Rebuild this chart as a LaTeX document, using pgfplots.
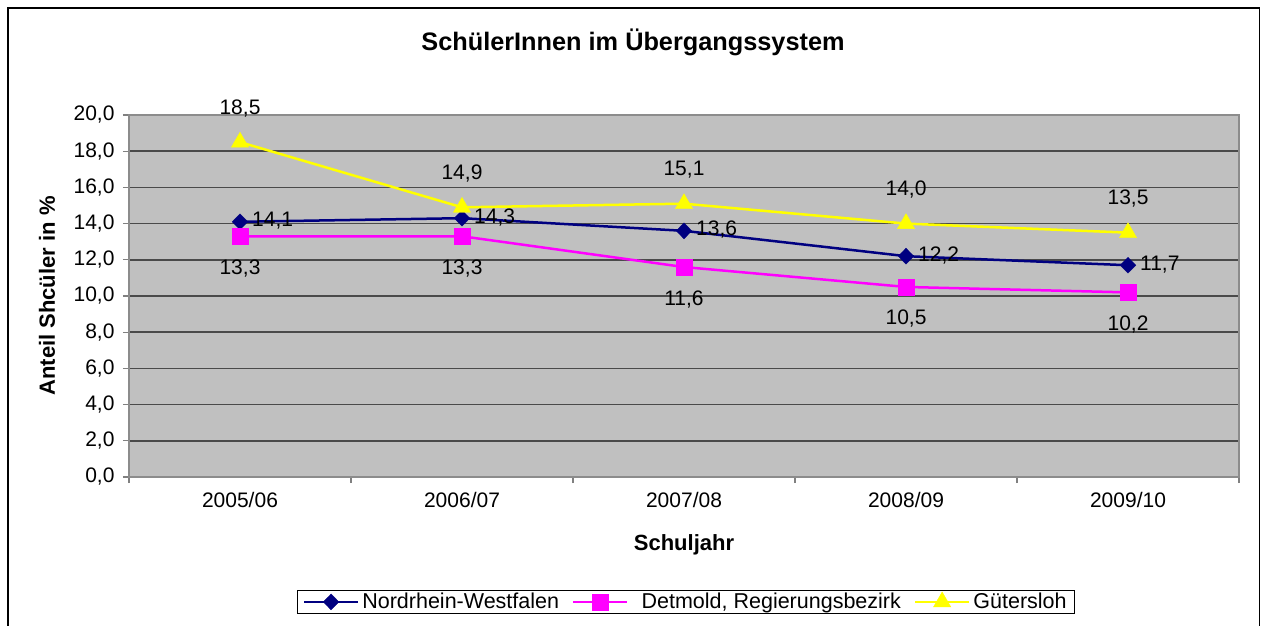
\documentclass[border=0pt]{standalone}
\usepackage{fontspec}
\setmainfont{Liberation Sans}
\usepackage{pgfplots}
\pgfplotsset{compat=1.18}
\definecolor{bggray}{HTML}{C0C0C0}
\definecolor{gridgray}{HTML}{4A4A4A}
\definecolor{nrw}{HTML}{000080}
\definecolor{dtm}{HTML}{FF00FF}
\definecolor{gue}{HTML}{FFFF00}
\newcommand{\nf}{\fontsize{21}{24}\selectfont}
\newcommand{\bfl}{\fontsize{22}{25}\selectfont\bfseries}
\begin{document}
\begin{tikzpicture}[x=1pt,y=1pt]
\useasboundingbox (0,0) rectangle (1266,625);
\draw[black, line width=1.3pt] (8,-6) rectangle (1259.5,617);
\node[font=\fontsize{25.3}{28}\selectfont\bfseries] at (633,583) {SchülerInnen im Übergangssystem};
\begin{axis}[
  at={(129pt,148pt)}, anchor=south west,
  scale only axis, width=1110pt, height=362pt,
  font=\nf,
  /pgf/number format/.cd, fixed, fixed zerofill, precision=1, use comma, assume math mode=true,
  /pgfplots/.cd,
  xmin=-0.5, xmax=4.5, ymin=0, ymax=20,
  xtick={-0.5,0.5,...,4.5},
  x tick label as interval,
  xticklabels={2005/06,2006/07,2007/08,2008/09,2009/10},
  ytick={0,2,...,20},
  tick align=outside, xtick pos=left, ytick pos=left,
  major tick length=6pt,
  tick style={draw=gray, line width=1.2pt},
  ymajorgrids, grid style={draw=gridgray, line width=1.5pt},
  axis line style={draw=gray!90, line width=1.5pt},
  axis background/.style={fill=bggray},
  xticklabel style={font=\nf, yshift=-6pt},
  yticklabel style={font=\nf, xshift=-5pt},
  xlabel={Schuljahr},
  ylabel={Anteil Shcüler in \%},
  xlabel style={at={(axis description cs:0.5,-0.188)}, anchor=center, font=\bfl},
  ylabel style={at={(axis description cs:-0.0739,0.5)}, anchor=center, font=\bfl},
  legend columns=3,
  legend style={at={(axis description cs:0.502,-0.345)}, anchor=center,
    draw=black, line width=1pt, fill=white, font=\fontsize{21.5}{24}\selectfont,
    inner xsep=5pt, inner ysep=1pt,
    /tikz/every even column/.append style={column sep=10pt},
    nodes={inner xsep=3pt, inner ysep=2pt}},
  legend image code/.code={%
    \draw[mark repeat=2, mark phase=2] plot coordinates {(0pt,0pt) (27pt,0pt) (54pt,0pt)};},
  every node near coord/.append style={font=\nf, text=black, inner sep=0pt},
]
\addplot[nrw, line width=2.5pt, mark=diamond*, mark size=8pt, mark options={xscale=1.3, line width=0.3pt},
  nodes near coords, every node near coord/.append style={anchor=west, xshift=12pt, yshift=1pt}]
  coordinates {(0,14.1) (1,14.3) (2,13.6) (3,12.2) (4,11.7)};
\addlegendentry{Nordrhein-Westfalen}
\addplot[dtm, line width=2.5pt, mark=square*, mark size=8pt, mark options={line width=0.3pt},
  nodes near coords, every node near coord/.append style={anchor=center, yshift=-32pt}]
  coordinates {(0,13.3) (1,13.3) (2,11.6) (3,10.5) (4,10.2)};
\addlegendentry{\hspace{10pt}Detmold, Regierungsbezirk}
\addplot[gue, line width=2.5pt, mark=triangle*, mark size=10pt, mark options={line width=0.3pt},
  nodes near coords, every node near coord/.append style={anchor=center, yshift=34pt}]
  coordinates {(0,18.5) (1,14.9) (2,15.1) (3,14.0) (4,13.5)};
\addlegendentry{Gütersloh}
\end{axis}
\end{tikzpicture}
\end{document}
